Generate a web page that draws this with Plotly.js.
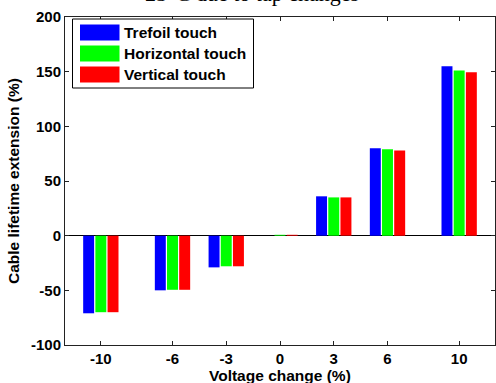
<!DOCTYPE html>
<html>
<head>
<meta charset="utf-8">
<script src="https://cdn.plot.ly/plotly-3.0.1.min.js"></script>
<style>html,body{margin:0;padding:0;background:#fff;}#chart{width:496px;height:383px;}</style>
</head>
<body>
<div id="chart"></div>
<script>
// ---- data ----
const categories = [-10, -6, -3, 0, 3, 6, 10];
const trefoilTouch = [-71, -50, -29, 0, 36, 80, 155];
const horizontalTouch = [-70, -49.5, -28, 0.8, 35, 79, 151];
const verticalTouch = [-70, -49.5, -28, 0.8, 35, 78, 149.5];
const seriesNames = ['Trefoil touch', 'Horizontal touch', 'Vertical touch'];
const seriesColors = ['#0000ff', '#00ff00', '#ff0000'];
const yTicks = [-100, -50, 0, 50, 100, 150, 200];
const titleText = '25\u00B0C due to tap changes';
const xTitle = 'Voltage change (%)';
const yTitle = 'Cable lifetime extension (%)';

const seriesValues = [trefoilTouch, horizontalTouch, verticalTouch];
const fam = 'Liberation Sans, Arial, sans-serif';
const font = {family: fam, size: 15, color: '#000', weight: 'bold'};
const titleFont = {family: fam, size: 15.5, color: '#000', weight: 'bold'};

const traces = seriesValues.map((vals, i) => ({
  type: 'bar',
  x: categories,
  y: vals,
  name: seriesNames[i],
  marker: {color: seriesColors[i], line: {width: 0}},
  showlegend: false,
  hoverinfo: 'x+y+name'
}));

// manual legend (MATLAB-style wide swatches)
const M = {l: 65, r: 1, t: 17, b: 38};
const W = 496, H = 383;
const pw = W - M.l - M.r, ph = H - M.t - M.b;
const px = x => (x - M.l) / pw;
const py = y => 1 - (y - M.t) / ph;

const shapes = [
  {type: 'rect', xref: 'paper', yref: 'paper', x0: px(72.5), x1: px(253.5), y0: py(88), y1: py(19),
   line: {color: '#000', width: 1}, fillcolor: '#fff', layer: 'above'}
];
const annotations = [];
const rowCenters = [32.5, 53.5, 74.5];
seriesNames.forEach((n, i) => {
  const c = rowCenters[i];
  shapes.push({type: 'rect', xref: 'paper', yref: 'paper', x0: px(80), x1: px(119.5),
    y0: py(c + 8), y1: py(c - 8), line: {width: 0}, fillcolor: seriesColors[i], layer: 'above'});
  annotations.push({xref: 'paper', yref: 'paper', x: px(122), y: py(c), xanchor: 'left', yanchor: 'middle',
    text: n, showarrow: false, font: {family: fam, size: 15.5, color: '#000', weight: 'bold'}});
});
annotations.push({xref: 'paper', yref: 'paper', x: px(252), y: 1.071, xanchor: 'center', yanchor: 'middle',
  text: titleText, showarrow: false,
  font: {family: 'Liberation Serif, Times New Roman, serif', size: 22, color: '#000', weight: 'normal'}});
annotations.push({xref: 'paper', yref: 'paper', x: px(13), y: 0.5, xanchor: 'center', yanchor: 'middle',
  textangle: -90, text: yTitle, showarrow: false, font: titleFont});
annotations.push({xref: 'paper', yref: 'paper', x: 0.5, y: py(375), xanchor: 'center', yanchor: 'middle',
  text: xTitle, showarrow: false, font: titleFont});

const layout = {
  width: W, height: H,
  margin: M,
  paper_bgcolor: '#fff', plot_bgcolor: '#fff',
  font: font,
  barmode: 'group', bargap: 0.32, bargroupgap: 0.1,
  showlegend: false,
  xaxis: {
    range: [-12, 12], tickmode: 'array', tickvals: categories, ticktext: categories.map(String),
    showgrid: false, zeroline: false, showline: true, linecolor: '#222', linewidth: 1,
    mirror: 'ticks', ticks: 'inside', ticklen: 4, tickcolor: '#222', tickfont: font
  },
  yaxis: {
    range: [-100, 200], tickmode: 'array', tickvals: yTicks, ticktext: yTicks.map(String),
    showgrid: false, zeroline: true, zerolinecolor: '#000', zerolinewidth: 1,
    showline: true, linecolor: '#222', linewidth: 1,
    mirror: 'ticks', ticks: 'inside', ticklen: 4, tickcolor: '#222', tickfont: font
  },
  shapes: shapes,
  annotations: annotations
};

Plotly.newPlot('chart', traces, layout, {displayModeBar: false, staticPlot: true});
</script>
</body>
</html>
